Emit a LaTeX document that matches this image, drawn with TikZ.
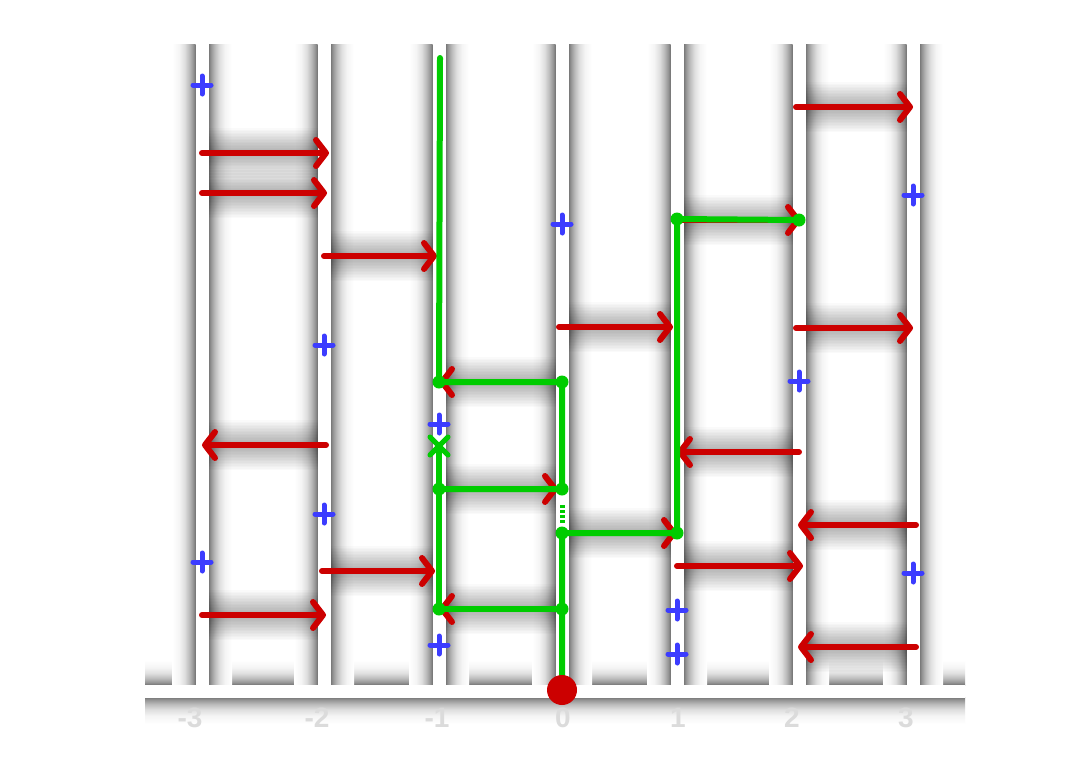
\documentclass[tikz,border=0pt]{standalone}
\usepackage{fontspec}
\setmainfont{Liberation Sans}
\usetikzlibrary{arrows.meta,calc}

\definecolor{ladderred}{RGB}{204,0,0}
\definecolor{pathgreen}{RGB}{0,204,0}
\definecolor{plusblue}{RGB}{60,60,255}

\pgfdeclarehorizontalshading{railshade}{100bp}{color(0bp)=(white); color(25bp)=(white);
    color(40bp)=(black!4); color(52bp)=(black!13); color(62bp)=(black!27);
    color(70bp)=(black!42); color(75bp)=(black!55); color(100bp)=(black!55)}

\tikzset{
    rail/.style={white, line width=13pt},
    leftshadow/.style={shading=railshade},
    rightshadow/.style={shading=railshade, shading angle=180},
    redarr/.style={ladderred, line width=6pt, line cap=round,
        -{Straight Barb[length=10pt,width=26pt,round]}},
    greenpath/.style={pathgreen, line width=6pt, line cap=round, line join=round},
    plusmark/.style={plusblue, line width=5pt, line cap=round},
    lbl/.style={font=\fontsize{28}{30}\selectfont\bfseries, inner sep=0pt, text=black!14}
}

\begin{document}
\begin{tikzpicture}[x=1pt,y=-1pt]
    \useasboundingbox (0,0) rectangle (1068,777);
    \fill[white] (0,0) rectangle (1068,777);

    % shadows of the axis
    \shade[shading=railshade, shading angle=-90] (145,660) rectangle (965,685);
    \shade[shading=railshade, shading angle=90] (145,697) rectangle (965,724);

    % shadows of the rails
    \foreach \x in {202,324,439,562,677,799,913} {
        \shade[leftshadow] (\x-30,44) rectangle (\x-6.5,690);
        \shade[rightshadow] (\x+6.5,44) rectangle (\x+30,690);
    }

    % shadows of the rungs
    \foreach \a/\b/\y in {202/329/153, 202/327/193, 324/437/256, 322/435/571,
        202/326/615, 559/673/327, 677/803/566, 796/913/107, 796/913/328,
        677/801/220, 439/558/489, 562/677/533, 326/202/445, 799/677/452,
        916/798/525, 916/798/647, 562/439/382, 562/439/609}
        \foreach \w in {8,11,...,50}
            \draw[black, opacity=0.02, line width=\w pt] (\a,\y) -- (\b,\y);

    % rails and axis
    \foreach \x in {202,324,439,562,677,799,913}
        \draw[rail] (\x,42) -- (\x,690);
    \draw[white, line width=13pt] (145,691) -- (965,691);

    % rungs
    \foreach \a/\b/\y in {202/329/153, 202/327/193, 324/437/256, 322/435/571,
        202/326/615, 559/673/327, 677/803/566, 796/913/107, 796/913/328,
        677/801/220, 439/558/489, 562/677/533, 326/202/445, 799/677/452,
        916/798/525, 916/798/647, 562/439/382, 562/439/609}
        \draw[redarr] (\a,\y) -- (\b,\y);

    % plus marks
    \foreach \x/\y in {202/85, 562/224, 913/195, 324/345, 799/381, 439/424,
        324/514, 202/562, 913/573, 677/610, 677/654, 439/645}
        \draw[plusmark] (\x,\y) ++(-9,0) -- ++(18,0) (\x,\y) ++(0,-9) -- ++(0,18);

    % green walk
    \coordinate (g0) at (562,690);
    \coordinate (ga) at (562,533);
    \coordinate (gb) at (677,533);
    \coordinate (gc) at (677,219);
    \coordinate (gd) at (799,220);
    \coordinate (ge) at (562,609);
    \coordinate (gf) at (439,609);
    \coordinate (gg) at (439,489);
    \coordinate (gx) at (439,446);
    \coordinate (gh) at (562,489);
    \coordinate (gi) at (562,382);
    \coordinate (gj) at (439,382);
    \coordinate (gk) at (440,58);
    \coordinate (gm) at (562,505);
    \coordinate (gn) at (562,523);

    \draw[greenpath] (g0) -- (ga) -- (gb) -- (gc) -- (gd);
    \draw[greenpath] (ge) -- (gf) -- (gg) -- (gx);
    \draw[greenpath] (gg) -- (gh) -- (gi) -- (gj) -- (gk);
    \draw[pathgreen, line width=5pt, dash pattern=on 2.5pt off 2.5pt] (gm) -- (gn);
    \foreach \p in {ga,gb,gc,gd,ge,gf,gg,gh,gi,gj}
        \fill[pathgreen] (\p) circle (6.5pt);
    \draw[greenpath, line width=5pt] (gx) ++(-9,-9) -- ++(18,18) (gx) ++(9,-9) -- ++(-18,18);

    % start point
    \node[circle, fill=ladderred, minimum width=29pt, minimum height=30pt,
        inner sep=0pt] (start) at (g0) {};

    % axis labels
    \foreach \x/\t in {190/-3, 317/-2, 437/-1, 563/0, 678/1, 792/2, 906/3}
        \node[lbl] (lab\x) at (\x,718) {\t};
\end{tikzpicture}
\end{document}
